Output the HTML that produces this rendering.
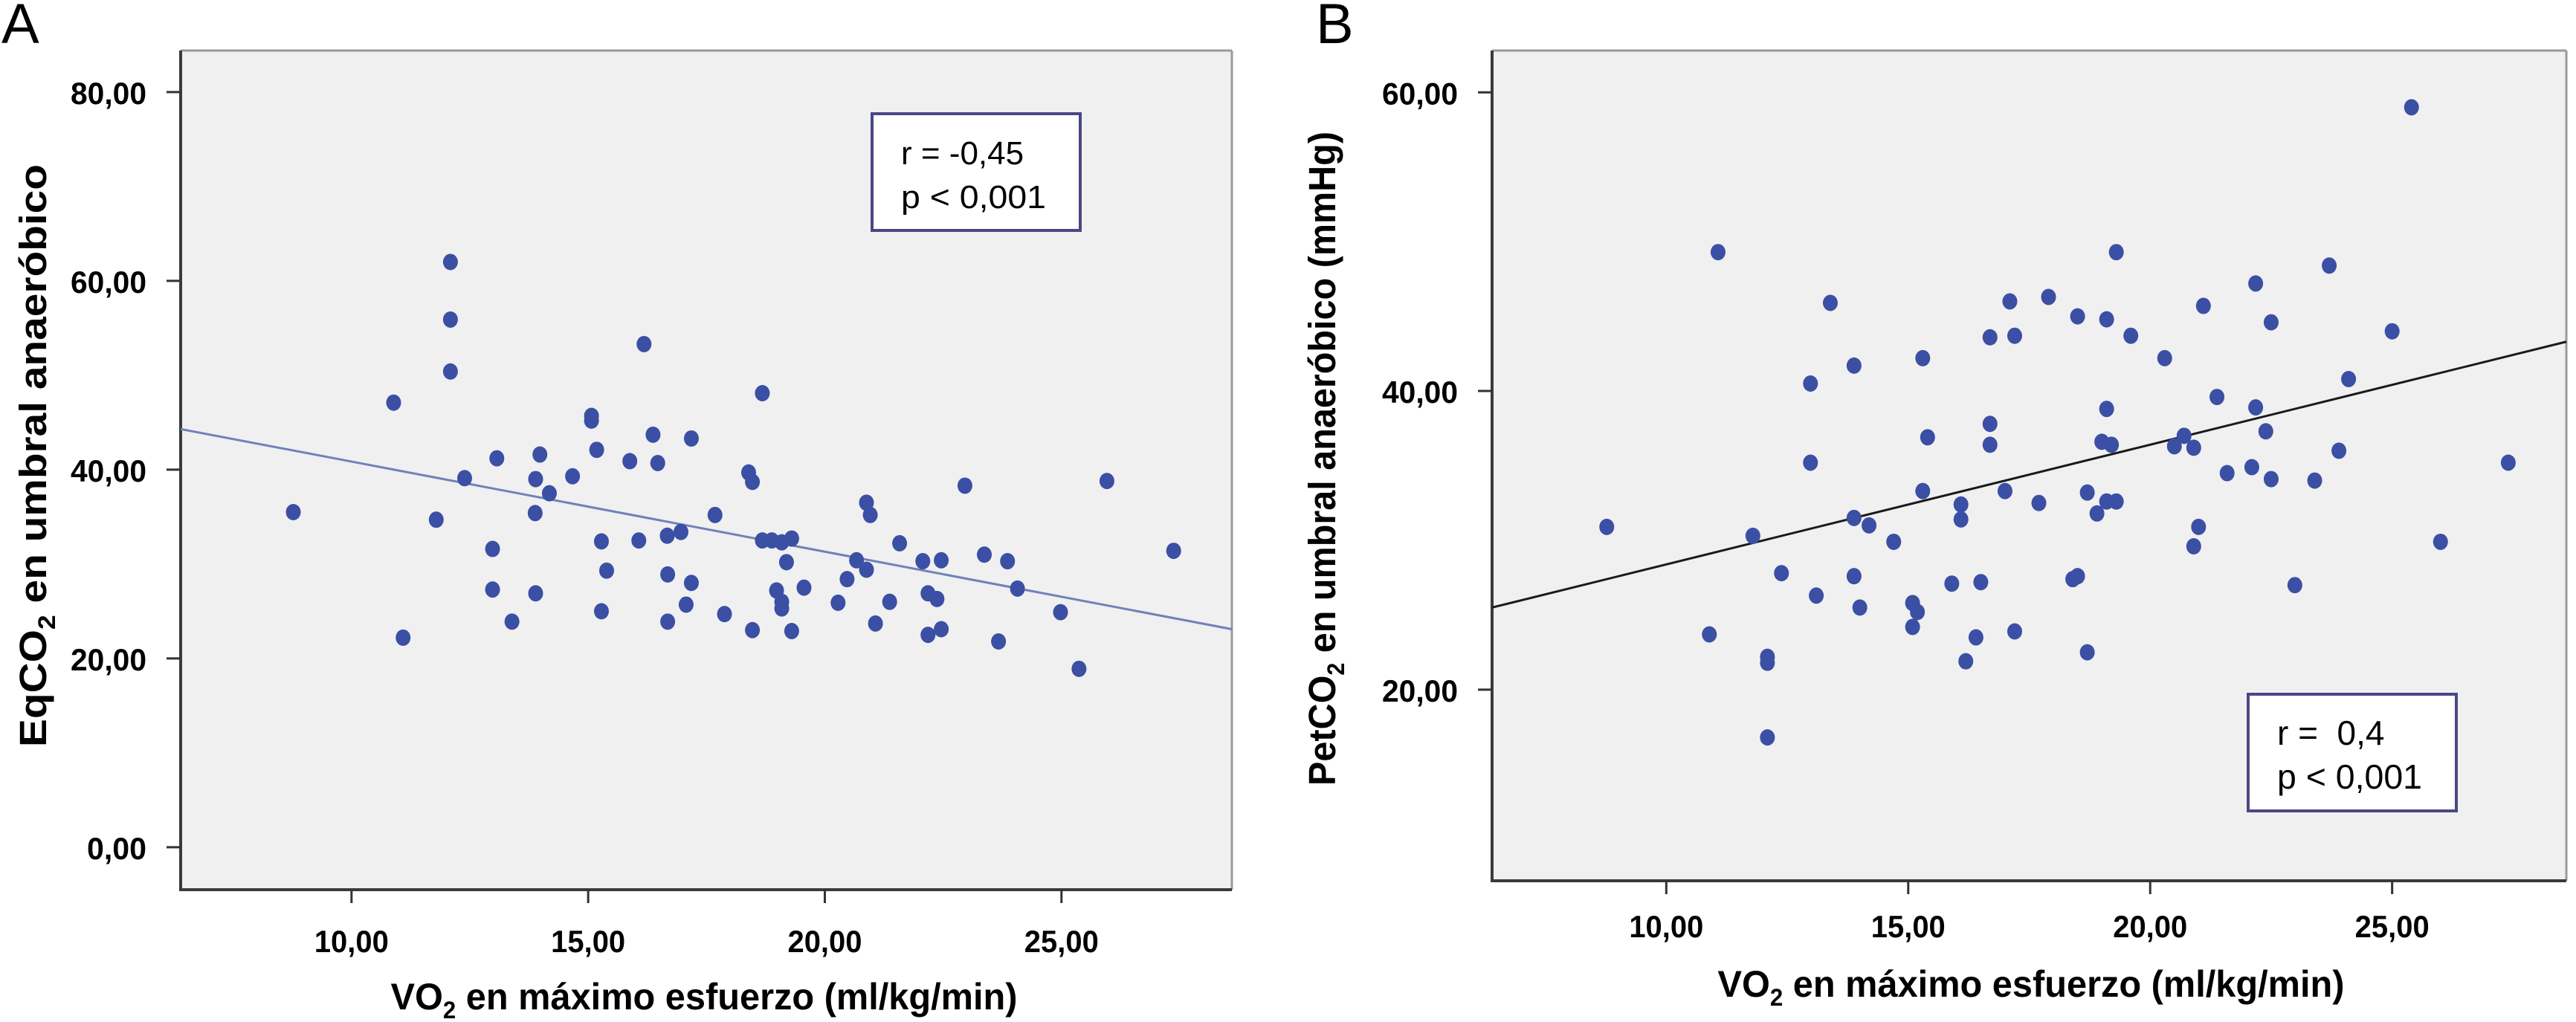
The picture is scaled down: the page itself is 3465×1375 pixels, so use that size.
<!DOCTYPE html>
<html><head><meta charset="utf-8"><style>
html,body{margin:0;padding:0;background:#fff;}
svg{display:block;font-family:"Liberation Sans",Arial,sans-serif;}
.pre{white-space:pre;}
</style></head><body>
<svg id="fig" width="3465" height="1375" viewBox="0 0 3465 1375" xmlns="http://www.w3.org/2000/svg">
<rect width="3465" height="1375" fill="#fff"/>
<g id="chartA"></g>
<g id="chartB"></g>
</svg>
<script>
const vo2A = [8.77,10.89,11.09,11.79,12.09,12.09,12.09,12.39,12.98,12.98,13.07,13.39,13.89,13.88,13.89,13.98,14.18,14.67,15.07,15.07,15.18,15.28,15.39,15.28,15.88,16.07,16.18,16.37,16.47,16.67,16.68,16.68,16.96,17.07,17.18,17.18,17.68,17.88,18.39,18.47,18.47,18.68,18.68,18.88,18.98,19.09,19.09,19.09,19.19,19.3,19.3,19.56,20.28,20.47,20.67,20.88,20.88,20.96,21.07,21.37,21.58,22.07,22.18,22.18,22.37,22.46,22.46,22.96,23.37,23.67,23.86,24.07,24.98,25.37,25.96,27.37];
const eqco2 = [35.5,47.1,22.2,34.7,62.0,55.9,50.4,39.1,31.6,27.3,41.2,23.9,39.0,35.4,26.9,41.6,37.5,39.3,45.7,45.2,42.1,32.4,29.3,25.0,40.9,32.5,53.3,43.7,40.7,33.0,28.9,23.9,33.4,25.7,43.3,28.0,35.2,24.7,39.7,38.7,23.0,48.1,32.5,32.5,27.2,26.0,25.3,32.3,30.2,32.7,22.9,27.5,25.9,28.4,30.4,36.5,29.4,35.2,23.7,26.0,32.2,30.3,26.9,22.5,26.3,30.4,23.1,38.3,31.0,21.8,30.3,27.4,24.9,18.9,38.8,31.4];
const vo2B = [8.77,11.07,10.89,11.79,12.09,12.09,12.09,12.38,12.98,12.98,13.1,13.39,13.88,13.88,13.88,14.0,14.19,14.7,15.09,15.19,15.09,15.3,15.3,15.4,15.9,16.09,16.09,16.19,16.4,16.5,16.69,16.69,16.69,17.0,17.1,17.2,17.2,17.7,17.9,18.4,18.5,18.5,18.7,18.7,18.9,19.0,19.1,19.1,19.1,19.2,19.3,19.3,19.6,20.3,20.5,20.7,20.9,20.9,21.0,21.1,21.38,21.59,22.1,22.18,22.18,22.39,22.5,22.5,22.99,23.4,23.7,23.9,24.1,25.0,25.4,26.0,27.4];
const petco2 = [30.9,49.3,23.7,30.3,22.2,21.8,16.8,27.8,40.5,35.2,26.3,45.9,41.7,31.5,27.6,25.5,31.0,29.9,25.8,25.2,24.2,42.2,33.3,36.9,27.1,32.4,31.4,21.9,23.5,27.2,43.6,37.8,36.4,33.3,46.0,43.7,23.9,32.5,46.3,27.4,27.6,45.0,33.2,22.5,31.8,36.6,38.8,44.8,32.6,36.4,49.3,32.6,43.7,42.2,36.3,37.0,36.2,29.6,30.9,45.7,39.6,34.5,34.9,47.2,38.9,37.3,44.6,34.1,27.0,34.0,48.4,36.0,40.8,44.0,59.0,29.9,35.2];
const xTicks = [10,15,20,25];
const xTickLabels = ["10,00","15,00","20,00","25,00"];
const yTicksA = [0,20,40,60,80];
const yTickLabelsA = ["0,00","20,00","40,00","60,00","80,00"];
const yTicksB = [20,40,60];
const yTickLabelsB = ["20,00","40,00","60,00"];
const fitA = [44.3, 23.1];
const fitB = [25.5, 43.3];
const statsA = ["r = -0,45","p < 0,001"];
const statsB = ["r =  0,4","p < 0,001"];

const NS="http://www.w3.org/2000/svg";
function mk(parent,tag,attrs){const e=document.createElementNS(NS,tag);for(const k in attrs)e.setAttribute(k,attrs[k]);parent.appendChild(e);return e;}

function drawChart(g, cfg){
  const sx=v=>cfg.L+(v-cfg.xd[0])/(cfg.xd[1]-cfg.xd[0])*(cfg.R-cfg.L);
  const sy=v=>cfg.B-(v-cfg.yd[0])/(cfg.yd[1]-cfg.yd[0])*(cfg.B-cfg.T);
  const lbl=mk(g,'text',{x:cfg.letterX,y:58,'font-size':76,fill:'#000'});
  lbl.textContent=cfg.letter;
  
  
  const bg=mk(g,'rect',{x:cfg.L,y:cfg.T,width:cfg.R-cfg.L,height:cfg.B-cfg.T,fill:'#f0f0f0'});
  
  
  mk(g,'line',{x1:cfg.L,y1:cfg.T,x2:cfg.R,y2:cfg.T,stroke:'#9a9a9a','stroke-width':3});
  mk(g,'line',{x1:cfg.R,y1:cfg.T,x2:cfg.R,y2:cfg.B,stroke:'#9a9a9a','stroke-width':3});
  const ya=mk(g,'line',{x1:cfg.L,y1:cfg.T,x2:cfg.L,y2:cfg.B+2,stroke:'#3a3a3a','stroke-width':4});
  
  
  const xa=mk(g,'line',{x1:cfg.L-2,y1:cfg.B,x2:cfg.R,y2:cfg.B,stroke:'#3a3a3a','stroke-width':4});
  
  
  xTicks.forEach((t,i)=>{
    const x=sx(t);
    mk(g,'line',{x1:x,y1:cfg.B,x2:x,y2:cfg.B+18,stroke:'#333','stroke-width':3});
    const tx=mk(g,'text',{x:x,y:cfg.xLabY,'font-size':42,'text-anchor':'middle',fill:'#000','font-weight':'bold',textLength:100,lengthAdjust:'spacingAndGlyphs'});
    tx.textContent=xTickLabels[i];
    
    
  });
  cfg.yTicks.forEach((t,i)=>{
    const y=sy(t);
    mk(g,'line',{x1:cfg.L-19,y1:y,x2:cfg.L,y2:y,stroke:'#333','stroke-width':3});
    const w=cfg.yLabels[i].length===4?80:102;
    const ty=mk(g,'text',{x:cfg.L-46,y:y+16,'font-size':42,'text-anchor':'end',fill:'#000','font-weight':'bold',textLength:w,lengthAdjust:'spacingAndGlyphs'});
    ty.textContent=cfg.yLabels[i];
    
    
  });
  const fl=mk(g,'line',{x1:sx(cfg.xd[0]),y1:sy(cfg.fit[0]),x2:sx(cfg.xd[1]),y2:sy(cfg.fit[1]),stroke:cfg.fitColor,'stroke-width':3});
  
  
  cfg.xs.forEach((v,i)=>{
    const c=mk(g,'ellipse',{cx:sx(v),cy:sy(cfg.ys[i]),rx:10,ry:11,fill:'#3b4fa4'});
    
    
  });
  const box=mk(g,'rect',{x:cfg.box[0],y:cfg.box[1],width:280,height:157,fill:'#fff',stroke:'#4a4785','stroke-width':4});
  
  
  cfg.stats.forEach((s,i)=>{
    const attrs={x:cfg.box[0]+39,y:cfg.box[1]+68+i*59,'font-size':cfg.statSize,fill:'#000','class':'pre'};
    if(i===1){attrs.textLength=195;attrs.lengthAdjust='spacingAndGlyphs';}
    const st=mk(g,'text',attrs);
    st.textContent=s;
    
    
  });
  const xt=mk(g,'text',{x:cfg.xTitle[0],y:cfg.xTitle[1],'font-size':50,'font-weight':'bold','text-anchor':'middle',fill:'#000',textLength:843,lengthAdjust:'spacingAndGlyphs'});
  xt.innerHTML='VO<tspan font-size="32" dy="12">2</tspan><tspan dy="-12"> en máximo esfuerzo (ml/kg/min)</tspan>';
  
  
  const yt=mk(g,'text',{x:0,y:0,'font-size':51,'font-weight':'bold','text-anchor':'middle',fill:'#000',textLength:cfg.yTitleLen,lengthAdjust:'spacingAndGlyphs',transform:`translate(${cfg.yTitle[0]},${cfg.yTitle[1]}) rotate(-90)`});
  yt.innerHTML=cfg.yTitleHTML;
  
  
}

drawChart(document.getElementById('chartA'),{
  letter:'A',letterX:2,L:243,R:1657,T:68,B:1197,xd:[6.39,28.6],yd:[-4.5,84.4],
  xs:vo2A,ys:eqco2,yTicks:yTicksA,yLabels:yTickLabelsA,fit:fitA,fitColor:'#6f82b8',
  xLabY:1281,box:[1173,153],stats:statsA,statSize:44,xTitle:[947,1358],
  yTitle:[62,613],yTitleLen:784,
  yTitleHTML:'EqCO<tspan font-size="32" dy="12">2</tspan><tspan dy="-12"> en umbral anaeróbico</tspan>'
});
drawChart(document.getElementById('chartB'),{
  letter:'B',letterX:1770,L:2007,R:3452,T:68,B:1185,xd:[6.4,28.6],yd:[7.2,62.8],
  xs:vo2B,ys:petco2,yTicks:yTicksB,yLabels:yTickLabelsB,fit:fitB,fitColor:'#1a1a1a',
  xLabY:1261,box:[3024,934],stats:statsB,statSize:46,xTitle:[2732,1341],
  yTitle:[1796,617],yTitleLen:880,
  yTitleHTML:'PetCO<tspan font-size="32" dy="12">2</tspan><tspan dy="-12"> en umbral anaeróbico (mmHg)</tspan>'
});
</script>
</body></html>
